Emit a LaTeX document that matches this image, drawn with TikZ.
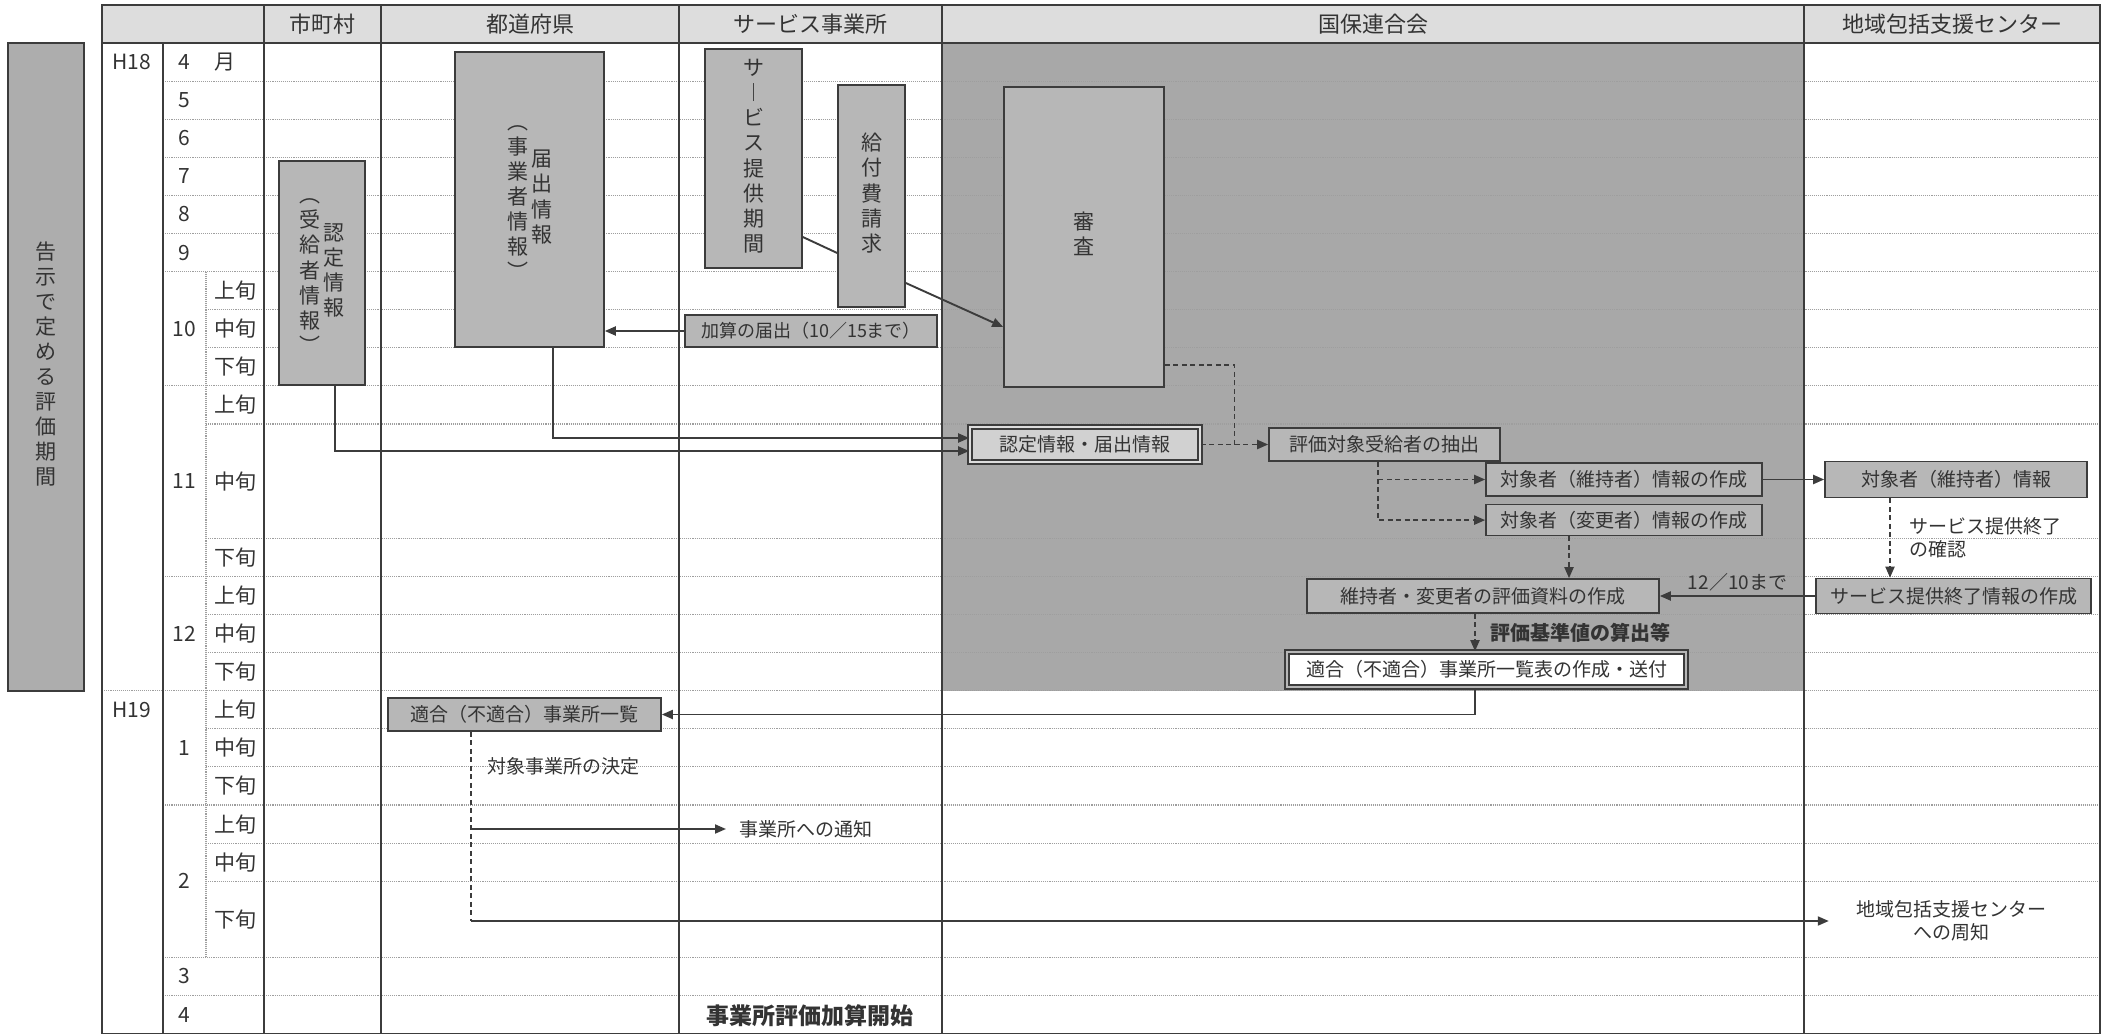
\documentclass[tikz,border=0pt]{standalone}
\usepackage{fontspec}
\setmainfont{Noto Sans CJK JP}
\usetikzlibrary{arrows.meta, positioning, calc}
\definecolor{ink}{HTML}{333333}
\definecolor{frame}{HTML}{3C3C3C}
\definecolor{boxgray}{HTML}{B7B7B7}
\definecolor{bargray}{HTML}{ADADAD}
\definecolor{kokuhogray}{HTML}{A8A8A8}
\definecolor{headgray}{HTML}{DDDDDD}
\definecolor{rulegray}{HTML}{9E9E9E}
\newcommand{\vcol}[1]{\begin{tabular}[c]{@{}c@{}}#1\end{tabular}}
\newcommand{\rowy}[1]{43+#1*38.1}

\begin{document}
\begin{tikzpicture}[x=1pt, y=-1pt, text=ink, font=\fontsize{19}{23}\selectfont,
    box/.style = {draw=frame, line width=1.6pt, fill=boxgray, inner sep=0pt},
    dbox/.style = {box, double=#1, double distance=2.6pt},
    vbox/.style = {box, font=\fontsize{21}{25}\selectfont},
    lbl/.style = {inner sep=0pt, font=\fontsize{21}{25}\selectfont},
    hdr/.style = {inner sep=0pt, font=\fontsize{22}{26}\selectfont},
    note/.style = {inner sep=0pt, align=left},
    link/.style = {draw=frame, line width=1.9pt, -{Triangle[length=11pt, width=9pt]}},
    dlink/.style = {link, dash pattern=on 5pt off 3.5pt},
    bare/.style = {draw=frame, line width=1.9pt},
    rowline/.style = {draw=rulegray, line width=1.1pt, densely dotted},
    colline/.style = {draw=frame, line width=1.4pt}]
    \useasboundingbox (0,0) rectangle (2108,1035);

    % table background
    \fill[headgray] (102,5) rectangle (2100,43);
    \fill[kokuhogray] (942,43) rectangle (1804,\rowy{17});

    % row lines
    \foreach \k in {1,...,10,13,14,...,22,24,25}
        \draw[rowline] (264,\rowy{\k}) -- (2100,\rowy{\k});
    \foreach \k in {1,...,6,9,14,20,24,25}
        \draw[rowline] (163,\rowy{\k}) -- (264,\rowy{\k});
    \foreach \k in {7,8,10,13,15,16,18,19,21,22}
        \draw[rowline] (206,\rowy{\k}) -- (264,\rowy{\k});
    \draw[rowline] (102,\rowy{17}) -- (264,\rowy{17});
    \draw[rowline] (206,\rowy{6}) -- (206,\rowy{24});

    % column lines
    \foreach \cx in {264,381,679,942,1804}
        \draw[colline] (\cx,5) -- (\cx,\rowy{26});
    \draw[colline] (163,43) -- (163,\rowy{26});
    \draw[colline] (102,43) -- (2100,43);
    \draw[frame, line width=1.6pt] (102,5) rectangle (2100,\rowy{26});

    % headers
    \node[hdr] (hCity) at (322.5,24) {市町村};
    \node[hdr] (hPref) at (530,24) {都道府県};
    \node[hdr] (hOffice) at (810.5,24) {サービス事業所};
    \node[hdr] (hKokuho) at (1373,24) {国保連合会};
    \node[hdr] (hCenter) at (1952,24) {地域包括支援センター};

    % period bar
    \node[vbox, fill=bargray, minimum width=76pt, minimum height=648pt] (periodBar) at (46,367)
        {\vcol{告\\示\\で\\定\\め\\る\\評\\価\\期\\間}};

    % row labels
    \node[lbl] (yearA) at (132,\rowy{0.5}) {H18};
    \node[lbl] (yearB) at (132,\rowy{17.5}) {H19};
    \node[lbl] (monthMark) at (225,\rowy{0.5}) {月};
    \foreach \c/\t [count=\i] in {0.5/4, 1.5/5, 2.5/6, 3.5/7, 4.5/8, 5.5/9, 7.5/10, 11.5/11,
                                  15.5/12, 18.5/1, 22/2, 24.5/3, 25.5/4}
        \node[lbl] (mon\i) at (184,\rowy{\c}) {\t};
    \foreach \c/\t [count=\i] in {6.5/上旬, 7.5/中旬, 8.5/下旬, 9.5/上旬, 11.5/中旬, 13.5/下旬,
                                  14.5/上旬, 15.5/中旬, 16.5/下旬, 17.5/上旬, 18.5/中旬, 19.5/下旬,
                                  20.5/上旬, 21.5/中旬, 23/下旬}
        \node[lbl] (jun\i) at (235,\rowy{\c}) {\t};

    % tall boxes
    \node[vbox, minimum width=86pt, minimum height=224pt] (ninteiBox) at (322,273)
        {\begin{tabular}{@{}c@{\hspace{3pt}}c@{}}\vcol{︵\\受\\給\\者\\情\\報\\︶} & \vcol{認\\定\\情\\報}\end{tabular}};
    \node[vbox, minimum width=149pt, minimum height=295pt] (todokeBox) at (529.5,199.5)
        {\begin{tabular}{@{}c@{\hspace{3pt}}c@{}}\vcol{︵\\事\\業\\者\\情\\報\\︶} & \vcol{届\\出\\情\\報}\end{tabular}};
    \node[vbox, minimum width=97pt, minimum height=219pt] (svcBox) at (753.5,158.5)
        {\vcol{サ\\︱\\ビ\\ス\\提\\供\\期\\間}};
    \node[vbox, minimum width=67pt, minimum height=222pt] (seikyuBox) at (871.5,196)
        {\vcol{給\\付\\費\\請\\求}};
    \node[vbox, minimum width=160pt, minimum height=300pt] (shinsaBox) at (1084,237)
        {\vcol{審\\査}};

    % flat boxes
    \node[box, minimum width=252pt, minimum height=32pt, font=\fontsize{18}{22}\selectfont] (kasanBox)
        at (811,331) {加算の届出（10／15まで）};
    \node[dbox=headgray, fill=black!18, minimum width=230pt, minimum height=35pt] (nintodokeBox)
        at (1085,444.5) {認定情報・届出情報};
    \node[box, minimum width=231pt, minimum height=33pt] (chushutsuBox) at (1384.5,444.5) {評価対象受給者の抽出};
    \node[box, minimum width=276pt, minimum height=33pt] (ijiBox) at (1624,479.5) {対象者（維持者）情報の作成};
    \node[box, minimum width=276pt, minimum height=31pt, below=7pt of ijiBox] (henkoBox) {対象者（変更者）情報の作成};
    \node[box, minimum width=352pt, minimum height=34pt] (shiryoBox) at (1483,596) {維持者・変更者の評価資料の作成};
    \node[dbox=boxgray, fill=white, minimum width=399pt, minimum height=35pt] (sofuBox)
        at (1486.5,669.5) {適合（不適合）事業所一覧表の作成・送付};
    \node[box, minimum width=262pt, minimum height=36pt] (ijiInfoBox) at (1956,479.5) {対象者（維持者）情報};
    \node[box, minimum width=275pt, minimum height=35pt] (shuryoBox) at (1953.5,596) {サービス提供終了情報の作成};
    \node[box, minimum width=273pt, minimum height=33pt] (ichiranBox) at (524.5,714.5) {適合（不適合）事業所一覧};

    % free texts
    \node[note, anchor=west] (tsuchiText) at (739,829) {事業所への通知};
    \node[note, align=center] (shuchiText) at (1951,921) {地域包括支援センター\\への周知};
    \node[inner sep=0pt, font=\fontsize{23}{27}\selectfont\bfseries] (kaishiText) at (810,1016) {事業所評価加算開始};

    % connectors
    \draw[bare] ([yshift=-78.5pt]svcBox.east) -- ([yshift=-57pt]seikyuBox.west);
    \draw[link] ([yshift=-87pt]seikyuBox.east) -- ([yshift=-90pt]shinsaBox.west);
    \draw[link] (kasanBox.west) -- (kasanBox.west -| todokeBox.east);
    \draw[link] ([xshift=13pt]ninteiBox.south) |- ([yshift=-6.5pt]nintodokeBox.west);
    \draw[link] ([xshift=23.5pt]todokeBox.south) |- ([yshift=6.5pt]nintodokeBox.west);

    \coordinate (jct) at ($(nintodokeBox.east)!0.5!(chushutsuBox.west)$);
    \draw[dlink] (nintodokeBox.east) -- (chushutsuBox.west);
    \draw[dlink, -] ([yshift=-128pt]shinsaBox.east) -| (jct);

    \coordinate (brk) at ([xshift=-6.5pt]chushutsuBox.south);
    \draw[dlink] (brk) |- (henkoBox.west);
    \draw[dlink] (brk |- ijiBox.west) -- (ijiBox.west);

    \coordinate (h1) at ([xshift=-55pt]henkoBox.south);
    \draw[dlink] (h1) -- (h1 |- shiryoBox.north);
    \coordinate (s1) at ([xshift=-8pt]shiryoBox.south);
    \draw[dlink] (s1) -- (s1 |- sofuBox.north)
        node[note, midway, right=15pt, font=\fontsize{20}{24}\selectfont\bfseries] (santeiText) {評価基準値の算出等};
    \draw[link] ([xshift=-11.5pt]sofuBox.south) |- (ichiranBox.east);

    \draw[link] (ijiBox.east) -- (ijiBox.east -| ijiInfoBox.west);
    \coordinate (c1) at ([xshift=-66pt]ijiInfoBox.south);
    \draw[dlink] (c1) -- (c1 |- shuryoBox.north)
        node[note, midway, right=19pt] (kakuninText) {サービス提供終了\\の確認};
    \draw[link] (shuryoBox.west) -- (shuryoBox.west -| shiryoBox.east)
        node[note, midway, above=4pt] (limitText) {12／10まで};

    \coordinate (d1) at ([xshift=-53.5pt]ichiranBox.south);
    \draw[dlink, -] (d1) -- (d1 |- shuchiText.west)
        node[note, pos=0.18, right=16pt] (ketteiText) {対象事業所の決定};
    \draw[link] (d1 |- tsuchiText.west) -- ([xshift=-13pt]tsuchiText.west);
    \draw[link] (d1 |- shuchiText.west) -- ([xshift=-27pt]shuchiText.west);
\end{tikzpicture}
\end{document}
